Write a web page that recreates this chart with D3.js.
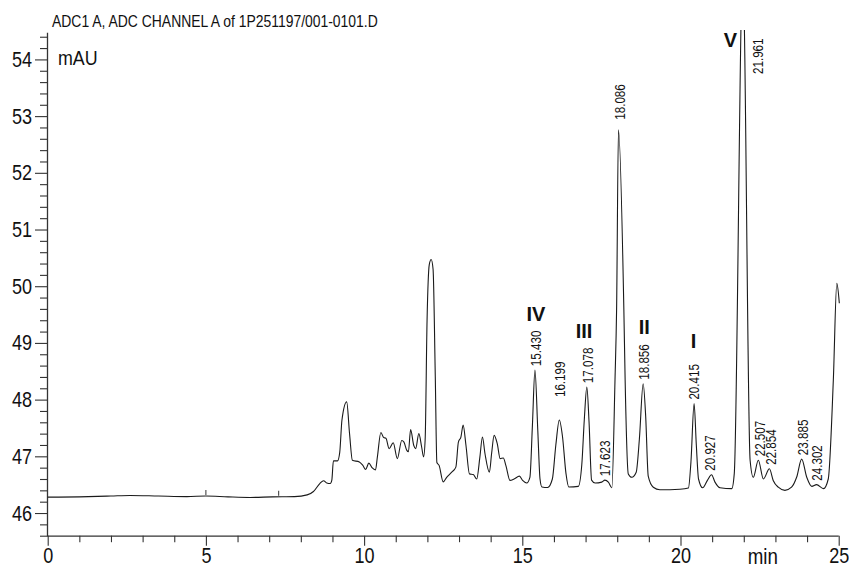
<!DOCTYPE html>
<html><head><meta charset="utf-8">
<script src="https://cdn.jsdelivr.net/npm/d3@7"></script>
<style>
html,body{margin:0;padding:0;background:#fff;}
svg{display:block;}
text{font-family:"Liberation Sans",Arial,Helvetica,sans-serif;fill:#111;}
</style></head><body>
<svg id="chart" width="849" height="568"></svg>
<script>
// ---- data ----
const titleText = "ADC1 A, ADC CHANNEL A of 1P251197/001-0101.D";
const yUnit = "mAU";
const xUnit = "min";
const xTickValues = [0, 5, 10, 15, 20, 25];
const yTickValues = [46, 47, 48, 49, 50, 51, 52, 53, 54];

const traceTime = [0.00,1.00,2.00,2.60,3.50,4.40,5.00,5.70,6.40,7.10,7.80,8.20,8.40,8.60,8.72,8.82,8.93,8.98,9.03,9.16,
  9.23,9.30,9.45,9.54,9.63,9.85,9.96,10.05,10.15,10.25,10.36,10.42,10.53,10.62,10.69,10.79,10.92,11.05,11.19,11.26,
  11.35,11.40,11.47,11.57,11.63,11.73,11.82,11.88,11.93,11.99,12.06,12.12,12.18,12.25,12.30,12.37,12.50,12.61,12.77,12.90,
  12.98,13.06,13.13,13.22,13.33,13.45,13.56,13.66,13.74,13.82,13.96,14.03,14.11,14.21,14.30,14.40,14.48,14.61,14.74,14.91,
  15.01,15.14,15.24,15.32,15.40,15.49,15.56,15.62,15.80,15.95,16.06,16.17,16.27,16.38,16.47,16.77,16.88,16.96,17.04,17.11,
  17.19,17.30,17.51,17.61,17.72,17.83,17.93,17.98,18.04,18.21,18.25,18.35,18.46,18.60,18.70,18.82,18.90,18.98,19.14,19.35,
  19.98,20.25,20.33,20.43,20.50,20.57,20.70,20.85,20.98,21.09,21.25,21.62,21.70,21.91,21.965,22.02,22.20,22.30,22.46,22.62,
  22.81,22.93,23.09,23.30,23.51,23.67,23.83,23.99,24.15,24.30,24.52,24.67,24.83,24.94,25.02];
const traceSignal = [46.28,46.285,46.30,46.31,46.30,46.29,46.30,46.285,46.275,46.285,46.29,46.32,46.38,46.52,46.57,46.53,46.52,46.58,46.92,46.92,
  47.07,47.64,47.96,47.40,46.93,46.90,46.84,46.77,46.88,46.80,46.76,46.99,47.42,47.33,47.32,47.135,47.24,46.96,47.28,47.25,
  47.105,47.08,47.47,47.19,47.135,47.40,47.16,46.99,47.30,49.40,50.38,50.47,50.30,48.40,46.89,46.84,46.55,46.63,46.72,46.81,
  47.25,47.34,47.55,47.19,46.69,46.68,46.60,46.99,47.34,47.05,46.72,47.05,47.37,47.22,46.96,46.97,46.84,46.575,46.60,46.65,
  46.575,46.53,46.63,47.55,48.52,47.45,46.60,46.46,46.45,46.60,47.20,47.64,47.35,46.70,46.46,46.47,46.85,47.65,48.22,47.60,
  46.58,46.53,46.545,46.58,46.545,46.445,48.35,49.58,52.76,49.58,48.35,46.69,46.63,46.72,47.30,48.28,47.70,46.65,46.455,46.41,
  46.42,46.44,46.90,47.93,47.20,46.60,46.445,46.575,46.675,46.545,46.445,46.43,46.70,54.53,56.20,54.53,46.93,46.63,46.93,46.60,
  46.78,46.575,46.455,46.40,46.455,46.63,46.95,46.63,46.47,46.50,46.43,46.60,48.34,50.05,49.70];

const peakTimes   = [15.430,16.199,17.078,17.623,18.086,18.856,20.415,20.927,21.961,22.507,22.854,23.885,24.302];
const peakHeights = [48.52, 47.64, 48.22, 46.58, 52.76, 48.28, 47.93, 46.675,56.20, 46.93, 46.78, 46.95, 46.50];

const romanLabels = ["IV", "III", "II", "I", "V"];
const romanPeaks  = [15.430, 17.078, 18.856, 20.415, 21.961];

const eventTimes = [5.0, 7.3];

// ---- drawing ----
const svg = d3.select("#chart");
const x = d3.scaleLinear().domain([0, 25]).range([47.7, 838.7]);
const y = d3.scaleLinear().domain([45.6, 54.48]).range([535.7, 32.2]);
const axisX = 47;
const ink = "#1a1a1a";

// condensed look (Helvetica Condensed style) by squeezing glyphs
function condense(sel, ratio) {
  sel.each(function () {
    const len = this.getComputedTextLength();
    if (len > 0) {
      d3.select(this).attr("textLength", (len * ratio).toFixed(2)).attr("lengthAdjust", "spacingAndGlyphs");
    }
  });
}

// title
svg.append("text").attr("x", 52).attr("y", 26.5)
  .attr("font-size", 16).text(titleText).call(condense, 0.87);

// y axis minor ticks
const yMinor = d3.range(45.6, 54.41, 0.2).map(v => +v.toFixed(1)).filter(v => Math.abs(v - Math.round(v)) > 1e-6);
const gyMinor = svg.append("g").attr("transform", `translate(${axisX},0)`)
  .call(d3.axisLeft(y).tickValues(yMinor).tickSize(7).tickFormat(""));
gyMinor.select(".domain").remove();
const gy = svg.append("g").attr("transform", `translate(${axisX},0)`)
  .call(d3.axisLeft(y).tickValues(yTickValues).tickSize(12).tickSizeOuter(0).tickPadding(3).tickFormat(d3.format("d")));
gy.select(".domain").attr("stroke", "#333").attr("stroke-width", 1.3);
gy.selectAll("text").attr("font-size", 22).attr("fill", ink)
  .attr("font-family", '"Liberation Sans",Arial,sans-serif').call(condense, 0.82);

// x axis
const xBase = y(45.6);
const gxMinor = svg.append("g").attr("transform", `translate(0,${xBase})`)
  .call(d3.axisBottom(x).tickValues(d3.range(0, 26, 1).filter(v => v % 5 !== 0)).tickSize(6.5).tickFormat(""));
gxMinor.select(".domain").remove();
const gx = svg.append("g").attr("transform", `translate(0,${xBase})`)
  .call(d3.axisBottom(x).tickValues(xTickValues).tickSize(10).tickSizeOuter(0).tickPadding(2).tickFormat(d3.format("d")));
gx.select(".domain").attr("stroke", "#333").attr("stroke-width", 1.3)
  .attr("d", `M${axisX},0.5H${x(25)}`);
gx.selectAll("text").attr("font-size", 22).attr("fill", ink)
  .attr("font-family", '"Liberation Sans",Arial,sans-serif').call(condense, 0.82);
svg.selectAll("g .tick line").attr("stroke", "#333").attr("stroke-width", 1.1);

// units
svg.append("text").attr("x", 58).attr("y", 65).attr("font-size", 21).text(yUnit).call(condense, 0.85);
svg.append("text").attr("x", x(22.6)).attr("y", 564).attr("text-anchor", "middle")
  .attr("font-size", 22).text(xUnit).call(condense, 0.85);

// trace
svg.append("clipPath").attr("id", "plotclip").append("rect")
  .attr("x", axisX).attr("y", 30).attr("width", 849 - axisX).attr("height", xBase - 30);
const pts = traceTime.map((t, i) => [t, traceSignal[i]]);
const line = d3.line().x(d => x(d[0])).y(d => y(d[1])).curve(d3.curveMonotoneX);
svg.append("path").datum(pts).attr("clip-path", "url(#plotclip)")
  .attr("fill", "none").attr("stroke", ink).attr("stroke-width", 1.1).attr("stroke-linejoin", "round")
  .attr("d", line);

// event marks on the trace
const bis = d3.bisector(d => d).left;
function signalAt(t) {
  const i = Math.max(1, bis(traceTime, t));
  const t0 = traceTime[i - 1], t1 = traceTime[i];
  const f = (t - t0) / (t1 - t0);
  return traceSignal[i - 1] + f * (traceSignal[i] - traceSignal[i - 1]);
}
eventTimes.forEach(t => {
  const yy = y(signalAt(t));
  svg.append("line").attr("x1", x(t)).attr("x2", x(t)).attr("y1", yy - 1).attr("y2", yy - 6)
    .attr("stroke", "#333").attr("stroke-width", 1);
});

// retention-time labels
const fmt = d3.format(".3f");
const labelFont = 14.5;
const tweak = { "16.199": { dy: -19 }, "18.086": { dy: -6 }, "21.961": { dx: 15, fixedBottom: 74 } };
const labelTops = {};
peakTimes.forEach((t, i) => {
  const key = fmt(t);
  const tw = tweak[key] || {};
  const h = Math.min(peakHeights[i], 54.48);
  const bottom = tw.fixedBottom !== undefined ? tw.fixedBottom : y(h) - 4 + (tw.dy || 0);
  const bx = x(t) + 5 + (tw.dx || 0);
  const tx = svg.append("text")
    .attr("transform", `translate(${bx},${bottom}) rotate(-90)`)
    .attr("font-size", labelFont).attr("text-anchor", "start").text(key);
  tx.call(condense, 0.8);
  const len = +tx.attr("textLength");
  labelTops[key] = { x: x(t), top: bottom - len };
});

// roman numerals
const romanTweak = { "I": { dy: -6 }, "III": { dx: -4 }, "V": { dx: -12, fixedY: 47 } };
romanLabels.forEach((r, i) => {
  const key = fmt(romanPeaks[i]);
  const lt = labelTops[key];
  const tw = romanTweak[r] || {};
  const yy = tw.fixedY !== undefined ? tw.fixedY : lt.top - 10 + (tw.dy || 0);
  svg.append("text").attr("x", lt.x + (tw.dx || 0)).attr("y", yy)
    .attr("text-anchor", "middle").attr("font-size", 20).attr("font-weight", "bold")
    .attr("font-family", '"Liberation Sans",Arial,sans-serif').text(r);
});
</script>
</body></html>
